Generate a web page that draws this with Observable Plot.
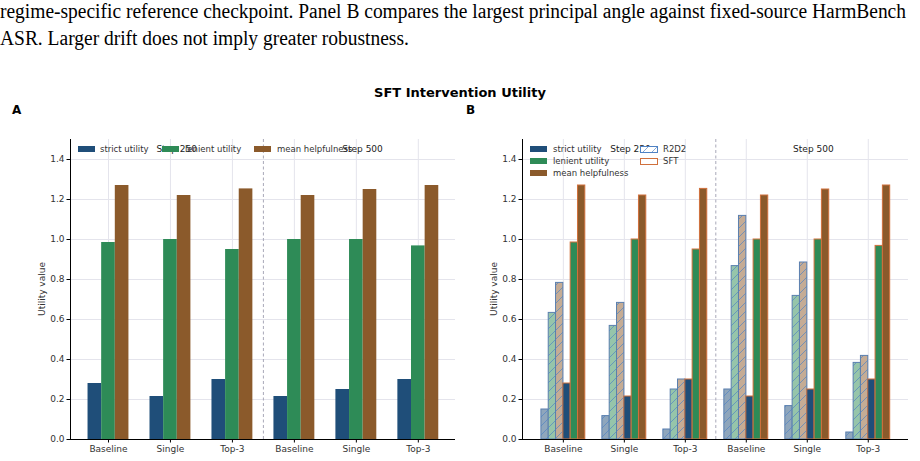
<!DOCTYPE html>
<html><head><meta charset="utf-8">
<script src="https://cdn.jsdelivr.net/npm/d3@7"></script>
<script src="https://cdn.jsdelivr.net/npm/@observablehq/plot@0.6"></script>
<style>
html,body{margin:0;padding:0;background:#fff}
body{width:920px;height:461px;overflow:hidden;position:relative;font-family:"DejaVu Sans",sans-serif}
.abs{position:absolute;white-space:nowrap}
.cap{position:absolute;left:0;font-family:"Liberation Serif",serif;font-size:20px;color:#000;white-space:nowrap;line-height:1;transform-origin:0 0}
.title{font-weight:bold;font-size:13px;color:#000}
.panel{font-weight:bold;font-size:12px;color:#000}
.lg{font-size:8.5px;color:#333;line-height:1}
.sw{position:absolute;width:17px;height:6px}
.ylab{font-size:9px;color:#333;transform:translate(-50%,-50%) rotate(-90deg)}
</style></head><body>
<svg width="0" height="0" style="position:absolute">
  <defs>
    <pattern id="hatch" patternUnits="userSpaceOnUse" width="9" height="9">
      <path d="M-2,2 L2,-2 M0,9 L9,0 M7,11 L11,7" stroke="#4f82c4" stroke-width="0.8" stroke-opacity="0.85"/>
    </pattern>
  </defs>
</svg>
<div id="root"></div>
<script>
// ---- data ----
const groups = ["Baseline", "Single", "Top-3", "Baseline", "Single", "Top-3"];
const stepLabels = ["Step 250", "Step 500"];
const metrics = ["strict utility", "lenient utility", "mean helpfulness"];
const methods = ["R2D2", "SFT"];
const yTicks = [0, 0.2, 0.4, 0.6, 0.8, 1.0, 1.2, 1.4];
const sftStrict = [0.28, 0.215, 0.30, 0.215, 0.25, 0.30];
const sftLenient = [0.985, 1.0, 0.95, 1.0, 1.0, 0.968];
const sftHelp = [1.27, 1.22, 1.253, 1.22, 1.25, 1.27];
const r2d2Strict = [0.15, 0.117, 0.05, 0.25, 0.167, 0.035];
const r2d2Lenient = [0.633, 0.568, 0.25, 0.867, 0.718, 0.383];
const r2d2Help = [0.783, 0.683, 0.30, 1.118, 0.885, 0.418];

const colors = ["#1f4e79", "#2e8b57", "#8b5a2b"];
const faded = ["#8fa6bc", "#96c5aa", "#c5ac95"];

const sft = [sftStrict, sftLenient, sftHelp];
const r2d2 = [r2d2Strict, r2d2Lenient, r2d2Help];
const idx = groups.map((_, i) => i);

const rowsA = [];
idx.forEach(i => metrics.forEach((m, k) => rowsA.push({i, k, v: sft[k][i]})));
const wA = 0.22;
const rowsBR = [], rowsBS = [];
idx.forEach(i => metrics.forEach((m, k) => {
  rowsBR.push({i, k, v: r2d2[k][i]});
  rowsBS.push({i, k, v: sft[k][i]});
}));
const wB = 0.12;

const style = {fontFamily: "DejaVu Sans", fontSize: "9px", color: "#333", background: "transparent", overflow: "visible"};

function common() {
  return [
    Plot.gridY(yTicks, {stroke: "#e4e4ec", strokeOpacity: 1, strokeWidth: 1}),
    Plot.gridX(idx, {stroke: "#e4e4ec", strokeOpacity: 1, strokeWidth: 1}),
    Plot.ruleX([2.5], {stroke: "#a8a8b8", strokeDasharray: "3,2.5", strokeWidth: 1}),
  ];
}
function axes(xdom) {
  return [
    Plot.axisY(yTicks, {tickFormat: d => d.toFixed(1), tickSize: 3.5, tickPadding: 2.5, label: null, stroke: "#000"}),
    Plot.axisX(idx, {tickFormat: i => groups[i], tickSize: 3.5, tickPadding: 2.5, label: null, stroke: "#000"}),
    Plot.ruleY([0], {stroke: "#000", strokeWidth: 1.2}),
    Plot.ruleX([xdom[0]], {stroke: "#000", strokeWidth: 1}),
    Plot.text(stepLabels, {x: [1.1, 4.1], y: 1.45, text: d => d, fontSize: 9, fill: "#222"})
  ];
}

const xdomA = [-0.613, 5.6];
const plotA = Plot.plot({
  width: 460, height: 341,
  marginLeft: 70, marginRight: 5, marginTop: 19, marginBottom: 22,
  x: {type: "linear", domain: xdomA},
  y: {domain: [0, 1.5]},
  color: {type: "identity"},
  style,
  marks: [
    ...common(),
    Plot.rectY(rowsA, {x1: d => d.i + (d.k - 1.5) * wA, x2: d => d.i + (d.k - 0.5) * wA, y1: 0, y2: "v", fill: d => colors[d.k], insetLeft: 0, insetRight: 0}),
    ...axes(xdomA)
  ]
});

const xdomB = [-0.67, 5.66];
const plotB = Plot.plot({
  width: 460, height: 341,
  marginLeft: 62, marginRight: 12, marginTop: 19, marginBottom: 22,
  x: {type: "linear", domain: xdomB},
  y: {domain: [0, 1.5]},
  color: {type: "identity"},
  style,
  marks: [
    ...common(),
    Plot.rectY(rowsBR, {x1: d => d.i - 0.36 + d.k * wB, x2: d => d.i - 0.36 + (d.k + 1) * wB, y1: 0, y2: "v", fill: d => faded[d.k], stroke: "#5a7fae", strokeWidth: 1, insetLeft: 0, insetRight: 0}),
    Plot.rectY(rowsBR, {x1: d => d.i - 0.36 + d.k * wB, x2: d => d.i - 0.36 + (d.k + 1) * wB, y1: 0, y2: "v", fill: "url(#hatch)", insetLeft: 0, insetRight: 0}),
    Plot.rectY(rowsBS, {x1: d => d.i + d.k * wB, x2: d => d.i + (d.k + 1) * wB, y1: 0, y2: "v", fill: d => colors[d.k], stroke: "#d0703c", strokeWidth: 1, insetLeft: 0, insetRight: 0}),
    ...axes(xdomB)
  ]
});

const root = document.getElementById("root");
for (const [p, x] of [[plotA, 0], [plotB, 460]]) {
  p.style.position = "absolute";
  p.style.left = x + "px";
  p.style.top = "120px";
  root.appendChild(p);
}

function add(html, cls, x, y, extra) {
  const d = document.createElement("div");
  d.className = "abs " + cls;
  d.style.left = x + "px"; d.style.top = y + "px";
  if (extra) d.style.cssText += extra;
  d.innerHTML = html;
  root.appendChild(d);
  return d;
}
// caption text
const c1 = add("regime-specific reference checkpoint. Panel B compares the largest principal angle against fixed-source HarmBench", "cap", 0, 1);
const c2 = add("ASR. Larger drift does not imply greater robustness.", "cap", 0, 28);
const sx = 906 / c1.getBoundingClientRect().width;
c1.style.transform = `scaleX(${sx})`;
c2.style.transform = `scaleX(${sx})`;
// titles
add("SFT Intervention Utility", "title", 460, 85, "transform:translateX(-50%)");
add("A", "panel", 12, 103);
add("B", "panel", 466, 103);
// y labels
add("Utility value", "ylab", 42, 289);
add("Utility value", "ylab", 494, 289);
// legend A
const lgA = [[78, 100], [162, 185], [254, 277]];
metrics.forEach((m, k) => {
  add("", "sw", lgA[k][0], 146, "background:" + colors[k]);
  add(m, "lg", lgA[k][1], 144.5);
});
// legend B
const lgBy = [146, 158, 170];
metrics.forEach((m, k) => {
  add("", "sw", 530, lgBy[k], "background:" + colors[k]);
  add(m, "lg", 553, lgBy[k] - 1.5);
});
add('<svg width="18" height="7" style="display:block"><rect x="0.5" y="0.5" width="17" height="6" fill="#fff"/><rect x="0.5" y="0.5" width="17" height="6" fill="url(#hatch)" stroke="#4f82c4" stroke-width="1"/></svg>', "", 640, 146);
add('<svg width="18" height="7" style="display:block"><rect x="0.5" y="0.5" width="17" height="6" fill="#fff" stroke="#d0703c" stroke-width="1"/></svg>', "", 640, 158);
methods.forEach((m, k) => add(m, "lg", 663, lgBy[k] - 1.5));
</script>
</body></html>
